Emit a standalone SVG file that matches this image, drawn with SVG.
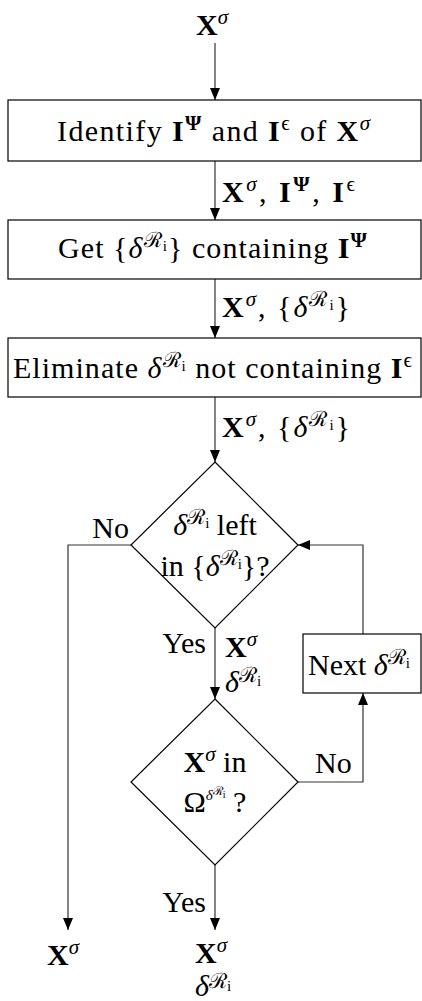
<svg xmlns="http://www.w3.org/2000/svg" width="422" height="1001" viewBox="0 0 422 1001" font-family="Liberation Serif" font-size="30">
<style>
.b{font-weight:bold}
.it{font-style:italic}
.sup{font-size:21px}
.sub{font-size:15px}
.node{fill:#fff;stroke:#000;stroke-width:1.2}
.edge{fill:none;stroke:#333;stroke-width:1.2}
</style>
<defs>
<marker id="ar" markerUnits="userSpaceOnUse" markerWidth="12" markerHeight="10" refX="12" refY="5" orient="auto">
<path d="M0,0 L12,5 L0,10 Z" fill="#000"/>
</marker>
</defs>

<g id="connectors">
<line class="edge" x1="215" y1="43" x2="215" y2="100" marker-end="url(#ar)"/>
<line class="edge" x1="215" y1="161" x2="215" y2="220" marker-end="url(#ar)"/>
<line class="edge" x1="215" y1="279" x2="215" y2="338" marker-end="url(#ar)"/>
<line class="edge" x1="215" y1="397" x2="215" y2="462" marker-end="url(#ar)"/>
<polyline class="edge" points="131,545 68,545 68,930" marker-end="url(#ar)"/>
<line class="edge" x1="215" y1="628" x2="215" y2="699" marker-end="url(#ar)"/>
<polyline class="edge" points="298,782 363,782 363,693" marker-end="url(#ar)"/>
<polyline class="edge" points="363,634 363,545 298,545" marker-end="url(#ar)"/>
<line class="edge" x1="215" y1="865" x2="215" y2="930" marker-end="url(#ar)"/>
<!-- edge labels -->
<text x="222" y="202" textLength="133"><tspan class="b">X</tspan><tspan class="sup it" dy="-11">σ</tspan><tspan dy="11">, </tspan><tspan class="b">I</tspan><tspan class="sup b" dy="-11">Ψ</tspan><tspan dy="11">, </tspan><tspan class="b">I</tspan><tspan class="sup" dy="-11">ϵ</tspan></text>
<text x="222" y="317" textLength="128"><tspan class="b">X</tspan><tspan class="sup it" dy="-11">σ</tspan><tspan dy="11">, {</tspan><tspan class="it">δ</tspan><tspan class="sup" dy="-11">ℛ</tspan><tspan class="sub" dy="4">i</tspan><tspan dy="7">}</tspan></text>
<text x="222" y="437" textLength="128"><tspan class="b">X</tspan><tspan class="sup it" dy="-11">σ</tspan><tspan dy="11">, {</tspan><tspan class="it">δ</tspan><tspan class="sup" dy="-11">ℛ</tspan><tspan class="sub" dy="4">i</tspan><tspan dy="7">}</tspan></text>
<text x="129" y="538" text-anchor="end">No</text>
<text x="206" y="653" text-anchor="end">Yes</text>
<text x="225" y="657"><tspan class="b">X</tspan><tspan class="sup it" dy="-11">σ</tspan></text>
<text x="225" y="692"><tspan class="it">δ</tspan><tspan class="sup" dy="-10">ℛ</tspan><tspan class="sub" dy="4">i</tspan></text>
<text x="315" y="773">No</text>
<text x="206" y="912" text-anchor="end">Yes</text>
</g>

<g id="start">
<text x="196" y="35"><tspan class="b">X</tspan><tspan class="sup it" dy="-11">σ</tspan></text>
</g>

<g id="identify">
<rect class="node" x="8" y="100" width="413" height="61"/>
<text x="57" y="141" textLength="313">Identify <tspan class="b">I</tspan><tspan class="sup b" dy="-11">Ψ</tspan><tspan dy="11"> and </tspan><tspan class="b">I</tspan><tspan class="sup" dy="-11">ϵ</tspan><tspan dy="11"> of </tspan><tspan class="b">X</tspan><tspan class="sup it" dy="-11">σ</tspan></text>
</g>

<g id="get">
<rect class="node" x="8" y="220" width="413" height="59"/>
<text x="58" y="258" textLength="309">Get {<tspan class="it">δ</tspan><tspan class="sup" dy="-11">ℛ</tspan><tspan class="sub" dy="4">i</tspan><tspan dy="7">} containing </tspan><tspan class="b">I</tspan><tspan class="sup b" dy="-11">Ψ</tspan></text>
</g>

<g id="eliminate">
<rect class="node" x="8" y="338" width="413" height="59"/>
<text x="13" y="378" textLength="399">Eliminate <tspan class="it">δ</tspan><tspan class="sup" dy="-11">ℛ</tspan><tspan class="sub" dy="4">i</tspan><tspan dy="7"> not containing </tspan><tspan class="b">I</tspan><tspan class="sup" dy="-11">ϵ</tspan></text>
</g>

<g id="left">
<polygon class="node" points="215,462 298,545 215,628 131,545"/>
<text x="215" y="535" text-anchor="middle"><tspan class="it">δ</tspan><tspan class="sup" dy="-11">ℛ</tspan><tspan class="sub" dy="4">i</tspan><tspan dy="7"> left</tspan></text>
<text x="215" y="576" text-anchor="middle">in {<tspan class="it">δ</tspan><tspan class="sup" dy="-11">ℛ</tspan><tspan class="sub" dy="4">i</tspan><tspan dy="7">}?</tspan></text>
</g>

<g id="inomega">
<polygon class="node" points="215,699 298,782 215,865 131,782"/>
<text x="215" y="772" text-anchor="middle"><tspan class="b">X</tspan><tspan class="sup it" dy="-11">σ</tspan><tspan dy="11"> in</tspan></text>
<text x="215" y="812" text-anchor="middle">Ω<tspan class="sub it" dy="-12">δ</tspan><tspan style="font-size:12px" dy="-5">ℛ</tspan><tspan style="font-size:10px" dy="3">i</tspan><tspan dy="14"> ?</tspan></text>
</g>

<g id="next">
<rect class="node" x="303" y="634" width="118" height="59"/>
<text x="308" y="675">Next <tspan class="it">δ</tspan><tspan class="sup" dy="-11">ℛ</tspan><tspan class="sub" dy="4">i</tspan></text>
</g>

<g id="out-no">
<text x="47" y="965"><tspan class="b">X</tspan><tspan class="sup it" dy="-11">σ</tspan></text>
</g>

<g id="out-yes">
<text x="195" y="963"><tspan class="b">X</tspan><tspan class="sup it" dy="-11">σ</tspan></text>
<text x="195" y="996"><tspan class="it">δ</tspan><tspan class="sup" dy="-8">ℛ</tspan><tspan class="sub" dy="3">i</tspan></text>
</g>
</svg>
